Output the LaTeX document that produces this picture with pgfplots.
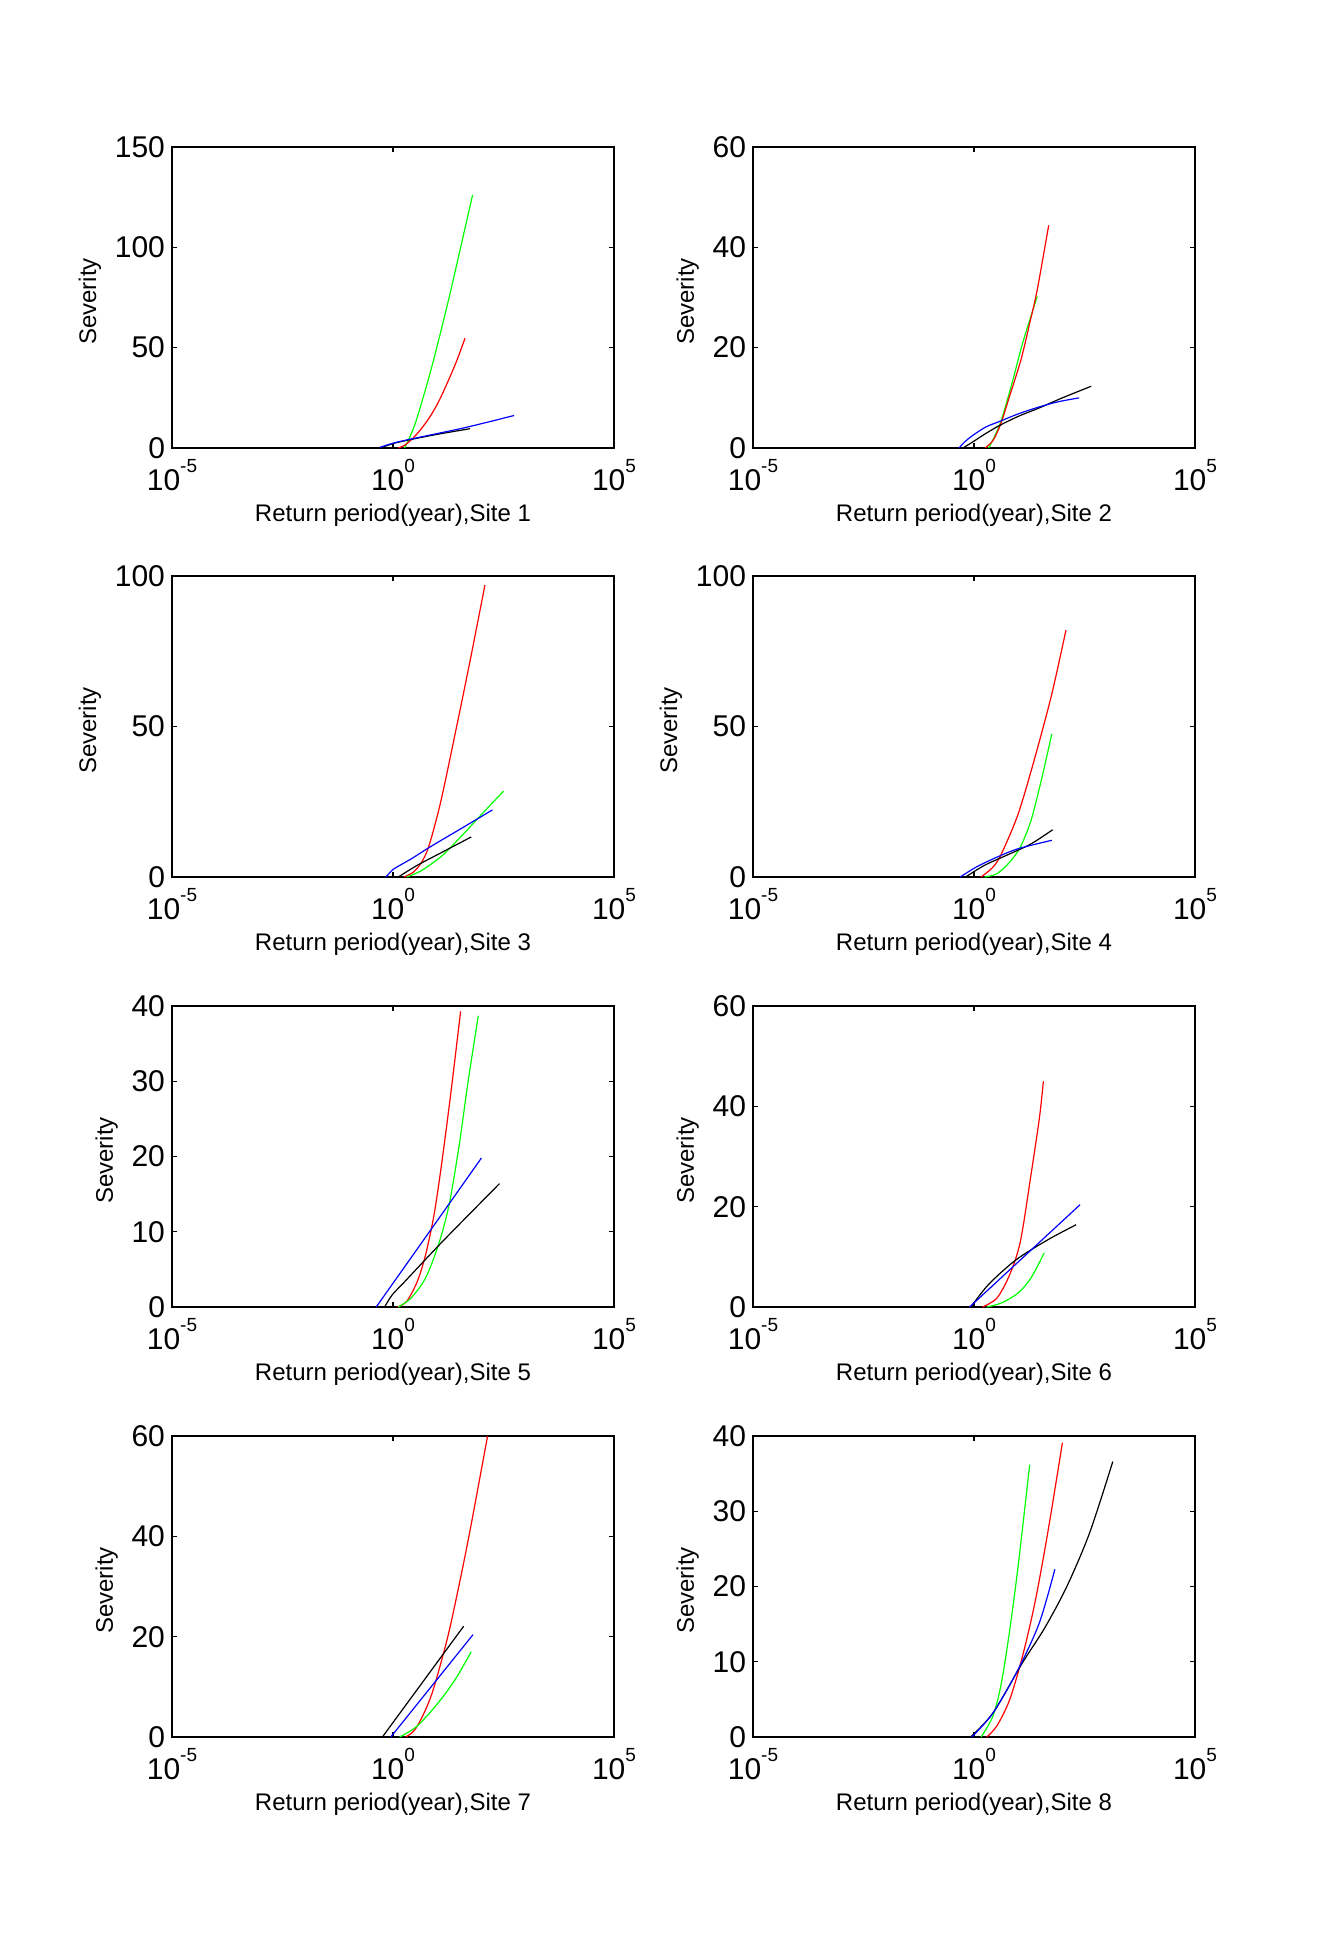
\documentclass[border=0pt]{standalone}
\usepackage{fontspec}
\setmainfont{Liberation Sans}
\usepackage{pgfplots}
\pgfplotsset{compat=1.18}
\newcommand{\ex}[1]{10\raisebox{9pt}{\fontsize{9.5}{9.5}\selectfont #1}}
\pgfplotsset{
  site/.style={
    width=221pt, height=150.5pt, scale only axis,
    xmin=-5, xmax=5, ymin=0,
    xtick={-5,0,5},
    xticklabels={\ex{-5},\ex{0},\ex{5}},
    tick align=inside, major tick length=2.5pt,
    axis line style={line width=0.7pt},
    every tick/.style={black, line width=0.6pt},
    /pgf/number format/assume math mode=true,
    scaled y ticks=false,
    tick label style={font=\fontsize{15}{15}\selectfont},
    xticklabel style={yshift=-2pt},
    label style={font=\fontsize{12}{12}\selectfont},
    ylabel=Severity,
    ylabel style={xshift=-2pt},
    every axis plot/.append style={line width=0.6pt, smooth, no markers},
    clip=true,
  }
}
\begin{document}
\begin{tikzpicture}
\useasboundingbox (0,0) rectangle (659.5pt,-979pt);
\fill[white] (0,0) rectangle (659.5pt,-979pt);
% Site 1
\begin{axis}[site, at={(86pt,-73.5pt)}, anchor=north west, ymax=150, ytick={0,50,100,150},
  xlabel={Return period(year),Site 1}]
\addplot[green] coordinates {(0.26,0) (0.35,4) (0.50,12) (0.68,25) (0.86,39) (1.03,53.5) (1.27,75) (1.50,97) (1.80,126)};
\addplot[red] coordinates {(0.12,0) (0.25,1.2) (0.41,4) (0.62,9) (0.84,15.7) (1.03,23) (1.22,32) (1.43,42.8) (1.63,54.7)};
\addplot[black] coordinates {(-0.26,0.2) (0.0,2.2) (0.31,3.8) (1.0,6.8) (1.74,9.6)};
\addplot[blue] coordinates {(-0.30,0.3) (0.0,2.4) (0.31,4) (1.0,7.2) (1.6,10) (2.2,13.2) (2.74,16.2)};
\end{axis}
% Site 2
\begin{axis}[site, at={(376.5pt,-73.5pt)}, anchor=north west, ymax=60, ytick={0,20,40,60},
  xlabel={Return period(year),Site 2}]
\addplot[green] coordinates {(0.33,0) (0.45,2) (0.62,5.6) (0.86,12.9) (1.10,20.9) (1.43,30.2)};
\addplot[red] coordinates {(0.25,0) (0.43,1.5) (0.61,4.9) (0.80,10.2) (1.06,17.5) (1.25,24.5) (1.43,31.5) (1.69,44.4)};
\addplot[black] coordinates {(-0.25,0) (-0.03,1.2) (0.25,2.8) (0.58,4.5) (1.0,6.3) (1.48,8.0) (2.0,10) (2.65,12.3)};
\addplot[blue] coordinates {(-0.34,0) (-0.2,1.3) (-0.03,2.5) (0.27,4.2) (0.58,5.3) (1.0,6.8) (1.48,8.2) (1.9,9.2) (2.38,10.0)};
\end{axis}
% Site 3
\begin{axis}[site, at={(86pt,-288pt)}, anchor=north west, ymax=100, ytick={0,50,100},
  xlabel={Return period(year),Site 3}]
\addplot[red] coordinates {(0.25,0) (0.45,1.5) (0.63,4.5) (0.81,10.2) (1.08,25) (1.44,50) (1.76,73) (2.08,97)};
\addplot[green] coordinates {(0.31,0) (0.65,2.2) (1.12,7.2) (1.60,14.4) (2.08,22) (2.50,28.5)};
\addplot[black] coordinates {(0.12,0) (0.55,3.9) (1.12,8.3) (1.77,13.3)};
\addplot[blue] coordinates {(-0.16,0) (-0.08,1.3) (0.03,2.8) (0.41,6) (0.84,10) (1.60,16.6) (2.25,22.3)};
\end{axis}
% Site 4
\begin{axis}[site, at={(376.5pt,-288pt)}, anchor=north west, ymax=100, ytick={0,50,100},
  xlabel={Return period(year),Site 4}]
\addplot[red] coordinates {(0.16,0) (0.43,3.3) (0.62,7.7) (1.0,21) (1.38,39.8) (1.76,60.8) (2.08,82)};
\addplot[green] coordinates {(0.24,0) (0.52,1.1) (0.81,5) (1.05,10) (1.29,18.8) (1.52,32) (1.76,47.5)};
\addplot[black] coordinates {(-0.19,0) (0.24,3.9) (0.81,7.7) (1.29,11) (1.78,15.7)};
\addplot[blue] coordinates {(-0.31,0) (0.05,3.3) (0.52,6.6) (1.0,9.4) (1.76,12.2)};
\end{axis}
% Site 5
\begin{axis}[site, at={(86pt,-503pt)}, anchor=north west, ymax=40, ytick={0,10,20,30,40},
  xlabel={Return period(year),Site 5}]
\addplot[red] coordinates {(0.10,0) (0.31,0.75) (0.55,3.4) (0.74,7) (0.93,12.3) (1.10,19) (1.31,28.5) (1.53,39.3)};
\addplot[green] coordinates {(0.12,0) (0.41,1.2) (0.74,3.9) (1.03,8.3) (1.27,13.6) (1.50,21.6) (1.70,30) (1.93,38.7)};
\addplot[black] coordinates {(-0.19,0) (-0.02,1.6) (0.27,3.4) (1.12,8.7) (2.41,16.4)};
\addplot[blue] coordinates {(-0.38,0) (0.8,9.8) (2.0,19.8)};
\end{axis}
% Site 6
\begin{axis}[site, at={(376.5pt,-503pt)}, anchor=north west, ymax=60, ytick={0,20,40,60},
  xlabel={Return period(year),Site 6}]
\addplot[red] coordinates {(0.19,0) (0.52,1.8) (0.81,6.5) (1.05,13.1) (1.29,26.4) (1.48,37.7) (1.57,45)};
\addplot[green] coordinates {(0.29,0) (0.62,0.8) (1.0,2.8) (1.29,5.8) (1.59,10.8)};
\addplot[black] coordinates {(-0.07,0) (0.33,4.5) (0.95,9.4) (1.67,13.4) (2.31,16.4)};
\addplot[blue] coordinates {(-0.10,0) (1.15,10.2) (2.40,20.4)};
\end{axis}
% Site 7
\begin{axis}[site, at={(86pt,-718pt)}, anchor=north west, ymax=60, ytick={0,20,40,60},
  xlabel={Return period(year),Site 7}]
\addplot[red] coordinates {(0.29,0) (0.50,1.5) (0.74,5.5) (0.93,10) (1.24,20) (1.50,30.5) (1.75,41.5) (2.14,60)};
\addplot[green] coordinates {(0.15,0) (0.55,2.2) (1.03,6.9) (1.41,11.5) (1.77,17)};
\addplot[black] coordinates {(-0.24,0) (0.68,11.05) (1.60,22.1)};
\addplot[blue] coordinates {(-0.05,0) (0.88,10.2) (1.81,20.4)};
\end{axis}
% Site 8
\begin{axis}[site, at={(376.5pt,-718pt)}, anchor=north west, ymax=40, ytick={0,10,20,30,40},
  xlabel={Return period(year),Site 8}]
\addplot[green] coordinates {(0.16,0) (0.43,2.8) (0.62,7.2) (0.81,14.3) (1.0,22.8) (1.26,36.2)};
\addplot[red] coordinates {(0.29,0) (0.52,1.5) (0.81,5) (1.10,10.8) (1.38,17.9) (1.67,27.2) (2.0,39.1)};
\addplot[black] coordinates {(-0.08,0) (0.43,3.2) (1.1,9.9) (1.6,14.5) (2.1,20) (2.62,27.2) (3.14,36.6)};
\addplot[blue] coordinates {(-0.05,0) (0.43,3.2) (1.0,9) (1.48,15.2) (1.83,22.3)};
\end{axis}
\end{tikzpicture}
\end{document}
